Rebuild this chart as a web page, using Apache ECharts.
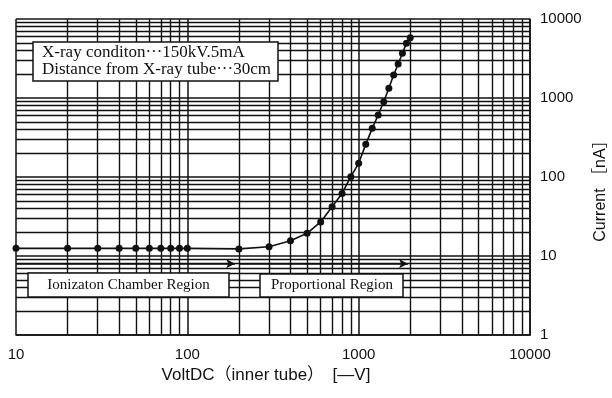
<!DOCTYPE html>
<html>
<head>
<meta charset="utf-8">
<script src="https://cdn.jsdelivr.net/npm/echarts@6/dist/echarts.min.js"></script>
<style>
  html, body { margin: 0; padding: 0; background: #fff; }
  #chart { width: 612px; height: 398px; }
</style>
</head>
<body>
<div id="chart"></div>
<script>
// Measured current against inner-tube DC voltage (log-log)
const voltages = [10, 20, 30, 40, 50, 60, 70, 80, 90, 100,
  200, 300, 400, 500, 600, 700, 800, 900, 1000,
  1100, 1200, 1300, 1400, 1500, 1600, 1700, 1800, 1900, 2000];
const currents = [12.5, 12.5, 12.5, 12.5, 12.5, 12.5, 12.5, 12.5, 12.5, 12.5,
  12.3, 13.1, 15.6, 19.4, 27, 42, 62, 101, 149,
  259, 413, 609, 898, 1327, 1955, 2693, 3680, 4920, 5800];

const xTicks = [10, 100, 1000, 10000];
const yTicks = [1, 10, 100, 1000, 10000];

// Region arrows: [startVolt, endVolt, currentLevel]
const ionArrow = [10, 190, 8];
const propArrow = [200, 1940, 8];

const noteLines = ['X-ray conditon\u00B7\u00B7\u00B7150kV.5mA', 'Distance from X-ray tube\u00B7\u00B7\u00B730cm'];
const ionLabel = 'Ionizaton Chamber Region';
const propLabel = 'Proportional Region';

// log-paper minor rulings (2..9 within every decade)
function minorValues(lo, hi) {
  const out = [];
  for (let d = lo; d < hi; d *= 10) {
    for (let k = 2; k <= 9; k++) out.push(k * d);
  }
  return out;
}
const xMinor = minorValues(xTicks[0], xTicks[xTicks.length - 1]);
const yMinor = minorValues(yTicks[0], yTicks[yTicks.length - 1]);

const INK = '#111';
const SANS = '"Liberation Sans", "Noto Sans CJK JP", sans-serif';
const SERIF = '"Liberation Serif", "Noto Serif CJK JP", serif';

const ruleStyle = { color: INK, width: 1.4, type: 'solid' };
const plainNumber = v => String(Math.round(v));

const chart = echarts.init(document.getElementById('chart'), null, { renderer: 'canvas' });

chart.setOption({
  animation: false,
  backgroundColor: '#fff',
  grid: { left: 16, right: 82, top: 19, bottom: 63, containLabel: false, outerBoundsMode: 'none' },
  xAxis: {
    type: 'log',
    logBase: 10,
    min: xTicks[0],
    max: xTicks[xTicks.length - 1],
    axisLine: { show: true, lineStyle: { color: INK, width: 1.5 } },
    axisTick: { show: false },
    axisLabel: { fontFamily: SANS, fontSize: 15, color: INK, margin: 12, formatter: plainNumber },
    splitLine: { show: true, lineStyle: { color: INK, width: 1.5 } },
    name: 'VoltDC（inner tube）　[—V]',
    nameLocation: 'middle',
    nameGap: 30,
    nameTextStyle: { fontFamily: SANS, fontSize: 17, color: INK, padding: [0, 14, 0, 0] }
  },
  yAxis: {
    type: 'log',
    logBase: 10,
    position: 'right',
    min: yTicks[0],
    max: yTicks[yTicks.length - 1],
    axisLine: { show: true, lineStyle: { color: INK, width: 1.5 } },
    axisTick: { show: false },
    axisLabel: { fontFamily: SANS, fontSize: 15, color: INK, margin: 10, align: 'left', formatter: plainNumber },
    splitLine: { show: true, lineStyle: { color: INK, width: 1.5 } },
    name: 'Current ［nA］',
    nameLocation: 'middle',
    nameRotate: 90,
    nameGap: 62,
    nameTextStyle: { fontFamily: SANS, fontSize: 16, color: INK, padding: [0, 20, 0, 0] }
  },
  series: [
    {
      // graph-paper rulings
      type: 'line',
      data: [],
      silent: true,
      z: 1,
      markLine: {
        silent: true,
        symbol: ['none', 'none'],
        label: { show: false },
        lineStyle: ruleStyle,
        animation: false,
        data: xMinor.map(v => ({ xAxis: v })).concat(yMinor.map(v => ({ yAxis: v })))
      }
    },
    {
      // region arrows
      type: 'line',
      data: [],
      silent: true,
      z: 2,
      markLine: {
        silent: true,
        symbol: ['none', 'arrow'],
        symbolSize: [7, 9],
        label: { show: false },
        lineStyle: { color: INK, width: 1.6, type: 'solid' },
        animation: false,
        data: [
          [{ coord: [ionArrow[0], ionArrow[2]] }, { coord: [ionArrow[1], ionArrow[2]] }],
          [{ coord: [propArrow[0], propArrow[2]] }, { coord: [propArrow[1], propArrow[2]] }]
        ]
      }
    },
    {
      name: 'Current',
      type: 'line',
      z: 5,
      data: voltages.map((v, i) => [v, currents[i]]),
      symbol: 'circle',
      symbolSize: 7,
      showSymbol: true,
      lineStyle: { color: INK, width: 1.6 },
      itemStyle: { color: INK }
    }
  ],
  graphic: [
    { type: 'rect', z: 100, shape: { x: 33, y: 42, width: 245, height: 39 },
      style: { fill: '#fff', stroke: INK, lineWidth: 1.5 } },
    { type: 'text', z: 101, x: 42, y: 53,
      style: { text: noteLines[0], font: '17px ' + SERIF, fill: INK, verticalAlign: 'middle' } },
    { type: 'text', z: 101, x: 42, y: 70,
      style: { text: noteLines[1], font: '17px ' + SERIF, fill: INK, verticalAlign: 'middle' } },

    { type: 'rect', z: 100, shape: { x: 28, y: 273, width: 201, height: 24 },
      style: { fill: '#fff', stroke: INK, lineWidth: 1.5 } },
    { type: 'text', z: 101, x: 128.5, y: 285.5,
      style: { text: ionLabel, font: '15px ' + SERIF, fill: INK, align: 'center', verticalAlign: 'middle' } },

    { type: 'rect', z: 100, shape: { x: 260, y: 274, width: 143, height: 23 },
      style: { fill: '#fff', stroke: INK, lineWidth: 1.5 } },
    { type: 'text', z: 101, x: 332, y: 285.5,
      style: { text: propLabel, font: '15px ' + SERIF, fill: INK, align: 'center', verticalAlign: 'middle' } }
  ]
});
</script>
</body>
</html>
